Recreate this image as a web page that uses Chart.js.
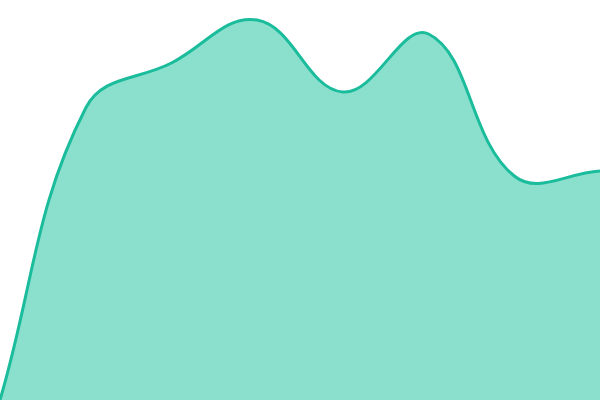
<!DOCTYPE html>
<html>
<head>
<meta charset="utf-8">
<style>
  html, body { margin: 0; padding: 0; background: #fff; }
  #wrap { width: 600px; height: 400px; }
</style>
<script src="https://cdn.jsdelivr.net/npm/chart.js@4"></script>
</head>
<body>
<div id="wrap"><canvas id="chart"></canvas></div>
<script>
// Данные
const labels = ['1', '2', '3', '4', '5', '6', '7', '8'];
const values = [0, 292, 337, 380, 308, 366, 224, 229];

const lineColor = '#1abc9c';
const fillColor = 'rgba(30, 196, 160, 0.52)';

const ctx = document.getElementById('chart').getContext('2d');
new Chart(ctx, {
    type: 'line',
    data: {
        labels: labels,
        datasets: [{
            data: values,
            borderColor: lineColor,
            backgroundColor: fillColor,
            borderWidth: 3,
            fill: true,
            tension: 0.4,
            pointRadius: 0
        }]
    },
    options: {
        responsive: true,
        maintainAspectRatio: false,
        animation: false,
        layout: { padding: 0 },
        plugins: {
            legend: { display: false },
            tooltip: { enabled: false }
        },
        scales: {
            x: { display: false },
            y: { display: false, min: 0, max: 400 }
        }
    }
});
</script>
</body>
</html>
